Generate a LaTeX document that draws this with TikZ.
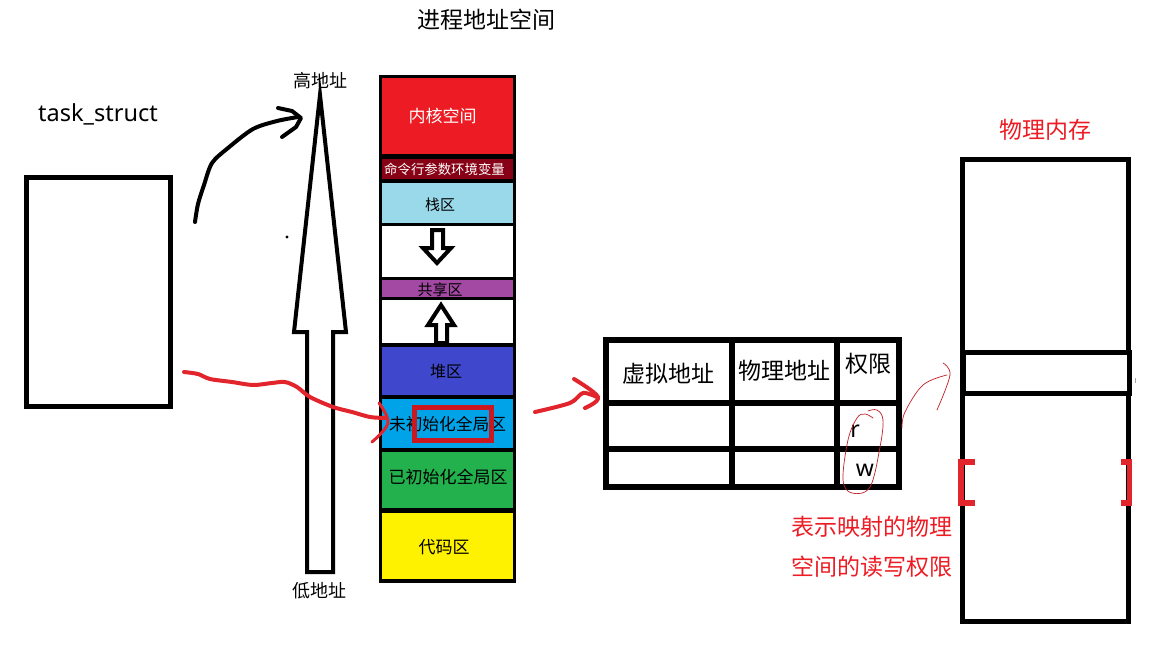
\documentclass[tikz,border=0pt]{standalone}
\usepackage{fontspec}
\setmainfont{Noto Sans CJK SC}
\newfontfamily\latinfont{Noto Sans}
\definecolor{rd}{HTML}{ED1C24}
\definecolor{strokered}{HTML}{E2252D}
\definecolor{dkred}{HTML}{880015}
\definecolor{ltblue}{HTML}{99D9EA}
\definecolor{purp}{HTML}{A349A4}
\definecolor{indigo}{HTML}{3F48CC}
\definecolor{cyanb}{HTML}{00A2E8}
\definecolor{grn}{HTML}{22B14C}
\definecolor{yel}{HTML}{FFF200}
\newcommand{\fsz}[1]{\fontsize{#1}{#1}\selectfont}
\tikzset{
  seg/.style={draw=black,line width=3.5pt,minimum width=134pt,inner sep=0pt,outer sep=0pt},
  txt/.style={inner sep=0pt,outer sep=0pt,text=black},
  cell/.style={draw=black,line width=5.5pt,inner sep=0pt,outer sep=0pt},
  box/.style={draw=black,line width=5pt,inner sep=0pt,outer sep=0pt,fill=white},
  outline/.style={draw=black,line width=4pt,line join=miter,fill=white},
  brush/.style={line width=4pt,line cap=round,line join=round},
  thin red/.style={draw=strokered!85!black,line width=.7pt,line cap=round,line join=round}
}
\begin{document}
\begin{tikzpicture}[x=1pt,y=-1pt]
\useasboundingbox[fill=white] (0,0) rectangle (1149,646);

% titles
\node[txt] (title) at (486,20) {\fsz{23}进程地址空间};
\node[txt] (task) at (98,114) {\fsz{23.5}\latinfont task\_struct};
\node[txt,text=rd] (phystitle) at (1045,130) {\fsz{23}物理内存};

% task_struct box
\node[box,minimum width=144pt,minimum height=229pt] (taskbox) at (98,292) {};

% big address arrow
\draw[outline] (320,95) -- (346,332) -- (333,332) -- (333,572) -- (307,572) -- (307,332) -- (294,332) -- cycle;
\node[txt] (high) at (320,81) {\fsz{18}高地址};
\node[txt] (low) at (319,591) {\fsz{18}低地址};
\fill (287,237) circle (1.6);

% black brush arrow
\draw[brush,draw=black] plot[smooth,tension=.5] coordinates {(195,222) (198,204) (204,185) (212,163) (228,148) (253,129) (277,121) (298,117)};
\draw[brush,draw=black] (278,108) -- (292,111) -- (301,118) -- (296,127) -- (282,137);

% address space stack
\node[seg,fill=rd,minimum height=79pt,text=white] (kernel) at (447.5,116) {\fsz{17}\hspace{-10pt}内核空间};
\node[seg,fill=dkred,minimum height=24pt,text=white] (args) at (447.5,169) {\fsz{13.4}\hspace{-6pt}命令行参数环境变量};
\node[seg,fill=ltblue,minimum height=43pt] (stack) at (447.5,203) {};
\node[txt] (stacktext) at (440,205) {\fsz{15}栈区};
\node[seg,fill=white,minimum height=54pt] (gap1) at (447.5,251.5) {};
\node[seg,fill=purp,minimum height=20pt] (shared) at (447.5,288.5) {};
\node[txt] (sharedtext) at (440,289.5) {\fsz{15}共享区};
\node[seg,fill=white,minimum height=47pt] (gap2) at (447.5,322) {};
\node[seg,fill=indigo,minimum height=52pt] (heap) at (447.5,371) {\fsz{16}\hspace{-3pt}堆区};
\node[seg,fill=cyanb,minimum height=54pt] (bss) at (447.5,424) {\fsz{16.7}未初始化全局区};
\node[seg,fill=grn,minimum height=60pt] (data) at (447.5,480) {};
\node[txt] (datatext) at (448,477) {\fsz{17}已初始化全局区};
\node[seg,fill=yel,minimum height=70pt] (code) at (447.5,546) {};
\node[txt] (codetext) at (444,547) {\fsz{17}代码区};

% growth arrows
\draw[outline] (432,230) -- (443,230) -- (443,248) -- (451,248) -- (437,263) -- (423,248) -- (432,248) -- cycle;
\draw[outline] (441,305) -- (454,325) -- (447,325) -- (447,343) -- (436,343) -- (436,325) -- (428,325) -- cycle;

% red brush into stack
\draw[brush,draw=strokered] plot[smooth,tension=.5] coordinates {(184,372) (198,374) (210,379) (232,382) (253,385) (272,383) (285,382) (297,387) (310,397) (333,407) (352,412) (370,417) (385,418)};
\draw[brush,draw=strokered,line width=3pt] plot[smooth,tension=.6] coordinates {(379,403) (388,423) (372,442)};
\draw[draw=rd!85!black,line width=5pt] (414,407) rectangle (491,440);

% red brush to table
\draw[brush,draw=strokered] plot[smooth,tension=.5] coordinates {(535,412) (570,403) (583,393) (597,397)};
\draw[brush,draw=strokered] plot[smooth,tension=.6] coordinates {(574,379) (598,397) (585,408)};

% page table
\node[cell,minimum width=126pt,minimum height=63pt] (t11) at (669,371.5) {};
\node[cell,minimum width=105pt,minimum height=63pt] (t12) at (784.5,371.5) {};
\node[cell,minimum width=62pt,minimum height=63pt] (t13) at (868,371.5) {};
\node[cell,minimum width=126pt,minimum height=46pt] (t21) at (669,426) {};
\node[cell,minimum width=105pt,minimum height=46pt] (t22) at (784.5,426) {};
\node[cell,minimum width=62pt,minimum height=46pt] (t23) at (868,426) {};
\node[cell,minimum width=126pt,minimum height=38pt] (t31) at (669,468) {};
\node[cell,minimum width=105pt,minimum height=38pt] (t32) at (784.5,468) {};
\node[cell,minimum width=62pt,minimum height=38pt] (t33) at (868,468) {};
\node[txt] (virt) at (668,374) {\fsz{23}虚拟地址};
\node[txt] (phys) at (784,371) {\fsz{23}物理地址};
\node[txt] (perm) at (868,364) {\fsz{23}权限};
\node[txt] (r) at (855,431) {\fsz{23}\latinfont r};
\node[txt] (w) at (865,470) {\fsz{23}\latinfont w};

% thin red annotations
\draw[thin red] plot[smooth,tension=.6] coordinates {(873,418) (865,414) (857,418) (848,440) (843,480) (852,493) (870,487) (880,447) (883,420) (877,410) (868,411)};
\draw[thin red] plot[smooth,tension=.6] coordinates {(902,428) (905,412) (923,385) (947,375)};
\draw[thin red] plot[smooth,tension=.6] coordinates {(943,363) (950,375) (937,410)};
\node[txt,text=rd] (note1) at (872,527) {\fsz{23}表示映射的物理};
\node[txt,text=rd] (note2) at (872,567) {\fsz{23}空间的读写权限};

% physical memory
\node[box,minimum width=166pt,minimum height=462pt] (mem) at (1045,390.5) {};
\node[box,minimum width=166pt,minimum height=41pt] (band) at (1046.5,372.5) {};
\draw[draw=strokered,line width=5.5pt] (975,462) -- (961,462) -- (961,503) -- (975,503);
\draw[draw=strokered,line width=5.5pt] (1121,462) -- (1129.5,462) -- (1129.5,503) -- (1121,503);
\fill[black!35] (1134.5,378) rectangle (1136,383);
\end{tikzpicture}
\end{document}
